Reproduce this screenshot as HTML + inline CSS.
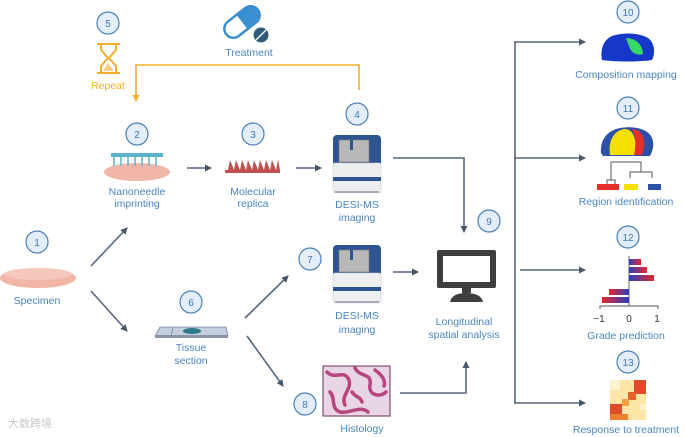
<!DOCTYPE html>
<html><head><meta charset="utf-8"><style>
html,body{margin:0;padding:0;background:#fff;}
svg{display:block;font-family:"Liberation Sans",sans-serif;}
.t{fill:#4a86c0;font-size:10.5px;text-anchor:middle;}
.c circle{fill:#e4eefa;stroke:#4a80b8;stroke-width:1.2;}
.c text{fill:#3f78b2;font-size:10px;text-anchor:middle;}
.a{stroke:#56677d;stroke-width:1.6;fill:none;}
</style></head><body>
<svg width="685" height="437" viewBox="0 0 685 437" xmlns="http://www.w3.org/2000/svg">
<defs>
<marker id="ar" markerWidth="8" markerHeight="8" refX="6" refY="4" orient="auto" markerUnits="userSpaceOnUse"><path d="M0,0.5 L7,4 L0,7.5 z" fill="#46566b"/></marker>
<marker id="ao" markerWidth="8" markerHeight="8" refX="6" refY="4" orient="auto" markerUnits="userSpaceOnUse"><path d="M0,0.5 L7,4 L0,7.5 z" fill="#f2b02a"/></marker>
<linearGradient id="bg1" x1="0" x2="1"><stop offset="0" stop-color="#2a3fc0"/><stop offset="1" stop-color="#e8262a"/></linearGradient>
<linearGradient id="bg2" x1="1" x2="0"><stop offset="0" stop-color="#2a3fc0"/><stop offset="1" stop-color="#e8262a"/></linearGradient>
<g id="desi">
<rect x="0" y="0" width="48" height="32" rx="4" fill="#2e5592"/>
<rect x="6" y="5" width="30" height="22" fill="#b8b8b8" stroke="#777" stroke-width="0.6"/>
<rect x="17" y="5" width="3" height="10" fill="#2e5592"/>
<rect x="0" y="28" width="48" height="30" rx="2" fill="#eceef0" stroke="#d0d4d8" stroke-width="0.6"/>
<rect x="0" y="42" width="48" height="4" fill="#2e5592"/>
<rect x="2" y="56" width="44" height="2" fill="#aab"/>
</g>
</defs>

<polyline points="359,90 359,65 136,65 136,101" fill="none" stroke="#f2b02a" stroke-width="1.6" marker-end="url(#ao)"/>

<line class="a" x1="91" y1="266" x2="127" y2="228" marker-end="url(#ar)"/>
<line class="a" x1="91" y1="291" x2="127" y2="331" marker-end="url(#ar)"/>
<line class="a" x1="187" y1="168" x2="211" y2="168" marker-end="url(#ar)"/>
<line class="a" x1="296" y1="168" x2="321" y2="168" marker-end="url(#ar)"/>
<polyline class="a" points="393,158 464,158 464,232" marker-end="url(#ar)"/>
<line class="a" x1="245" y1="318" x2="288" y2="276" marker-end="url(#ar)"/>
<line class="a" x1="247" y1="336" x2="283" y2="386" marker-end="url(#ar)"/>
<line class="a" x1="393" y1="272" x2="418" y2="272" marker-end="url(#ar)"/>
<polyline class="a" points="400,393 466,393 466,362" marker-end="url(#ar)"/>
<line class="a" x1="515" y1="42" x2="515" y2="403"/>
<line class="a" x1="514" y1="42" x2="585" y2="42" marker-end="url(#ar)"/>
<line class="a" x1="514" y1="158" x2="585" y2="158" marker-end="url(#ar)"/>
<line class="a" x1="520" y1="270" x2="585" y2="270" marker-end="url(#ar)"/>
<line class="a" x1="514" y1="403" x2="585" y2="403" marker-end="url(#ar)"/>

<g fill="none" stroke="#f2b02a" stroke-width="2">
<line x1="97" y1="44" x2="120" y2="44"/><line x1="97" y1="73" x2="120" y2="73"/>
<path d="M101,44 L101,50 L108,58 L101,66 L101,73 M116,44 L116,50 L109,58 L116,66 L116,73"/>
</g>
<path d="M103,71 L108,63 L114,71 z" fill="#f5cf80"/>
<text class="t" x="108" y="89" style="fill:#f2b02a">Repeat</text>

<g transform="rotate(-38 242 22)">
<rect x="222" y="13" width="40" height="18" rx="9" fill="#fff" stroke="#3a8fd0" stroke-width="2.5"/>
<path d="M242,13 h11 a9,9 0 0 1 0,18 h-11 z" fill="#3a8fd0"/>
</g>
<circle cx="261" cy="35" r="7.5" fill="#2f5b7a"/>
<line x1="256" y1="40" x2="266" y2="30" stroke="#fff" stroke-width="1.3"/>
<text class="t" x="249" y="56">Treatment</text>

<ellipse cx="38" cy="278" rx="38" ry="10" fill="#f0b7a8"/>
<ellipse cx="38" cy="274" rx="34" ry="6" fill="#f5c8bb"/>
<text class="t" x="37" y="304">Specimen</text>

<ellipse cx="137" cy="172" rx="33" ry="9" fill="#f0b7a8"/>
<rect x="111" y="153" width="52" height="4" fill="#5ab4cc"/>
<g stroke="#5ab4cc" stroke-width="1.5">
<line x1="114" y1="157" x2="114" y2="166"/><line x1="121" y1="157" x2="121" y2="166"/><line x1="128" y1="157" x2="128" y2="166"/><line x1="135" y1="157" x2="135" y2="166"/><line x1="142" y1="157" x2="142" y2="166"/><line x1="149" y1="157" x2="149" y2="166"/><line x1="156" y1="157" x2="156" y2="166"/>
</g>
<text class="t" x="137" y="195">Nanoneedle</text>
<text class="t" x="137" y="207">imprinting</text>

<path d="M225,173 L280,173 L280,170 L278,160 L276,170 L272,160 L270,170 L266,160 L264,170 L260,160 L258,170 L254,160 L252,170 L248,160 L246,170 L242,160 L240,170 L236,160 L234,170 L230,160 L228,170 L225,170 z" fill="#c0504d"/>
<text class="t" x="253" y="195">Molecular</text>
<text class="t" x="253" y="207">replica</text>

<use href="#desi" x="333" y="135"/>
<text class="t" x="357" y="208">DESI-MS</text>
<text class="t" x="357" y="221">imaging</text>
<use href="#desi" x="333" y="245"/>
<text class="t" x="357" y="319">DESI-MS</text>
<text class="t" x="357" y="333">imaging</text>

<path d="M160,327 L226,327 L228,336 L155,336 z" fill="#c5cfdc" stroke="#7a889a" stroke-width="0.8"/>
<rect x="155" y="335" width="73" height="3" fill="#8995a6"/>
<line x1="173" y1="327" x2="171" y2="336" stroke="#7a889a" stroke-width="0.8"/>
<ellipse cx="192" cy="331" rx="9" ry="3" fill="#2a7a8a"/>
<text class="t" x="191" y="351">Tissue</text>
<text class="t" x="191" y="364">section</text>

<rect x="323" y="366" width="67" height="50" fill="#e8d6e6" stroke="#6a3050" stroke-width="1"/>
<g fill="none" stroke="#b8457e" stroke-width="3.5" stroke-linecap="round">
<path d="M327,372 C335,380 342,370 348,378 C354,388 340,395 345,405"/>
<path d="M355,368 C360,378 372,372 370,385 C368,395 380,398 386,392"/>
<path d="M330,392 C336,398 330,408 340,412 C350,414 360,405 368,412"/>
<path d="M375,370 C382,375 386,380 384,386"/>
<path d="M352,392 C356,398 360,396 362,402"/>
</g>
<text class="t" x="362" y="432">Histology</text>

<rect x="437" y="250" width="59" height="38" rx="2" fill="#3f3f3f"/>
<rect x="443" y="256" width="47" height="26" fill="#fff"/>
<rect x="462" y="288" width="9" height="5" fill="#3f3f3f"/>
<path d="M450,302 Q452,293 466,293 Q481,293 483,302 z" fill="#3f3f3f"/>
<text class="t" x="464" y="325">Longitudinal</text>
<text class="t" x="464" y="338">spatial analysis</text>

<path d="M602,60 C600,50 603,40 612,36 C624,32 640,33 648,38 C654,42 656,52 652,60 C640,62 614,62 602,60 z" fill="#1638c8"/>
<path d="M626,38 C636,38 643,45 643,54 C637,56 631,53 629,46 z" fill="#3ad868"/>
<text class="t" x="626" y="78">Composition mapping</text>

<path d="M601,153 C600,142 605,133 616,129 C630,125 646,128 651,136 C655,143 653,150 650,156 L603,156 z" fill="#2d4fa8"/>
<path d="M610,155 C608,142 613,131 624,129 C634,128 637,142 636,155 z" fill="#f5e000"/>
<path d="M632,129 C643,130 647,140 642,155 L634,155 C636,145 636,137 632,129 z" fill="#e5302a"/>
<g fill="none" stroke="#555" stroke-width="1">
<polyline points="607,184 607,180 615,180 615,184"/>
<polyline points="611,180 611,162 641,162 641,172"/>
<polyline points="630,178 630,172 652,172 652,178"/>
</g>
<rect x="597" y="184" width="22" height="6" fill="#e5302a"/>
<rect x="624" y="184" width="14" height="6" fill="#f5e000"/>
<rect x="648" y="184" width="13" height="6" fill="#2d4fa8"/>
<text class="t" x="626" y="205">Region identification</text>

<line x1="629" y1="256" x2="629" y2="306" stroke="#666" stroke-width="1"/>
<rect x="629" y="259" width="12" height="6" fill="url(#bg1)"/>
<rect x="629" y="267" width="18" height="6" fill="url(#bg1)"/>
<rect x="629" y="275" width="25" height="6" fill="url(#bg1)"/>
<rect x="609" y="289" width="20" height="6" fill="url(#bg2)"/>
<rect x="602" y="297" width="27" height="6" fill="url(#bg2)"/>
<polyline points="600,309 600,306 658,306 658,309" fill="none" stroke="#555" stroke-width="1"/>
<text x="599" y="322" font-size="10" text-anchor="middle" fill="#333">−1</text>
<text x="629" y="322" font-size="10" text-anchor="middle" fill="#333">0</text>
<text x="657" y="322" font-size="10" text-anchor="middle" fill="#333">1</text>
<text class="t" x="626" y="339">Grade prediction</text>

<g>
<rect x="610" y="380" width="36" height="40" fill="#fde6a8"/>
<rect x="634" y="380" width="12" height="14" fill="#e34a2a"/>
<rect x="628" y="392" width="8" height="8" fill="#e86030"/>
<rect x="610" y="404" width="12" height="10" fill="#e34a2a"/>
<rect x="622" y="399" width="7" height="7" fill="#f0a040"/>
<rect x="610" y="414" width="18" height="6" fill="#f08030"/>
<rect x="640" y="404" width="6" height="6" fill="#fff3cc"/>
<rect x="610" y="380" width="10" height="10" fill="#fff3cc"/>
</g>
<text class="t" x="626" y="433">Response to treatment</text>

<g class="c">
<circle cx="37" cy="242" r="11"/><text x="37" y="246">1</text>
<circle cx="137" cy="134" r="11"/><text x="137" y="138">2</text>
<circle cx="253" cy="134" r="11"/><text x="253" y="138">3</text>
<circle cx="357" cy="114" r="11"/><text x="357" y="118">4</text>
<circle cx="108" cy="23" r="11"/><text x="108" y="27">5</text>
<circle cx="191" cy="302" r="11"/><text x="191" y="306">6</text>
<circle cx="310" cy="259" r="11"/><text x="310" y="263">7</text>
<circle cx="305" cy="404" r="11"/><text x="305" y="408">8</text>
<circle cx="489" cy="221" r="11"/><text x="489" y="225">9</text>
<circle cx="628" cy="12" r="11"/><text x="628" y="16">10</text>
<circle cx="628" cy="108" r="11"/><text x="628" y="112">11</text>
<circle cx="628" cy="237" r="11"/><text x="628" y="241">12</text>
<circle cx="628" cy="362" r="11"/><text x="628" y="366">13</text>
</g>

<text x="8" y="427" font-size="11" fill="#c8c8c8" font-family="'Liberation Sans','Noto Sans CJK SC',sans-serif">大数跨境</text>
</svg>
</body></html>
